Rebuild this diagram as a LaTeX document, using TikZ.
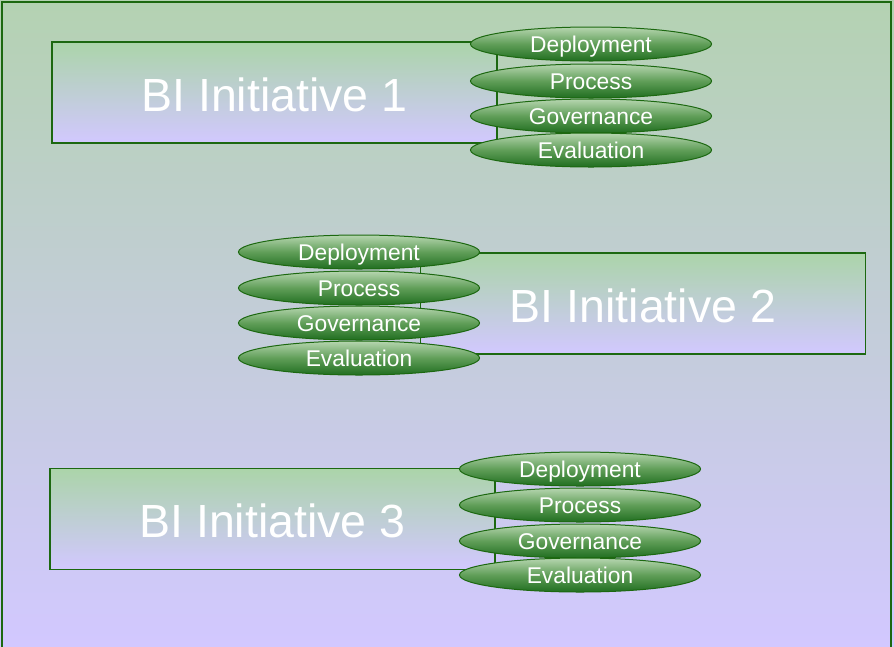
\documentclass[tikz,border=0pt]{standalone}
\usepackage{fontspec}
\setmainfont{Liberation Sans}
\usetikzlibrary{shapes.geometric}
\definecolor{bgtop}{RGB}{180,210,178}
\definecolor{bgbot}{RGB}{210,200,255}
\definecolor{frame}{RGB}{28,104,16}
\definecolor{eltop}{RGB}{182,214,176}
\definecolor{elmid}{RGB}{96,158,88}
\definecolor{elbot}{RGB}{32,110,32}
\tikzset{
  initbox/.style={draw=frame, line width=1.2pt, rectangle, minimum width=445pt, minimum height=101pt,
    top color=bgtop!95!green, bottom color=bgbot, text=white, font=\fontsize{46.5}{52}\selectfont, inner sep=0pt,
    text height=37pt, text depth=0pt},
  facet/.style={ellipse, draw=frame, line width=1pt, minimum width=241pt, minimum height=34pt, inner sep=0pt,
    top color=eltop, bottom color=elbot, middle color=elmid, text=white, font=\fontsize{22.8}{26}\selectfont,
    text height=16pt, text depth=0pt}
}
\begin{document}
\begin{tikzpicture}[x=1pt,y=-1pt]
\useasboundingbox (0,0) rectangle (894,646);
\shade[top color=bgtop, bottom color=bgbot] (0,0) rectangle (894,646);
\draw[frame, line width=2.2pt] (2,2) rectangle (891,652);
% Initiative 1
\node[initbox] (b1) at (274.5,92.5) {BI Initiative 1};
\node[facet] (d1) at (591,44) {Deployment};
\node[facet] (p1) at (591,81) {Process};
\node[facet] (g1) at (591,116) {Governance};
\node[facet] (v1) at (591,150) {Evaluation};
% Initiative 2
\node[initbox] (b2) at (643,303.5) {BI Initiative 2};
\node[facet] (d2) at (359,252) {Deployment};
\node[facet] (p2) at (359,288) {Process};
\node[facet] (g2) at (359,323) {Governance};
\node[facet] (v2) at (359,358) {Evaluation};
% Initiative 3
\node[initbox] (b3) at (272.5,519) {BI Initiative 3};
\node[facet] (d3) at (580,469) {Deployment};
\node[facet] (p3) at (580,505) {Process};
\node[facet] (g3) at (580,541) {Governance};
\node[facet] (v3) at (580,575) {Evaluation};
\end{tikzpicture}
\end{document}
